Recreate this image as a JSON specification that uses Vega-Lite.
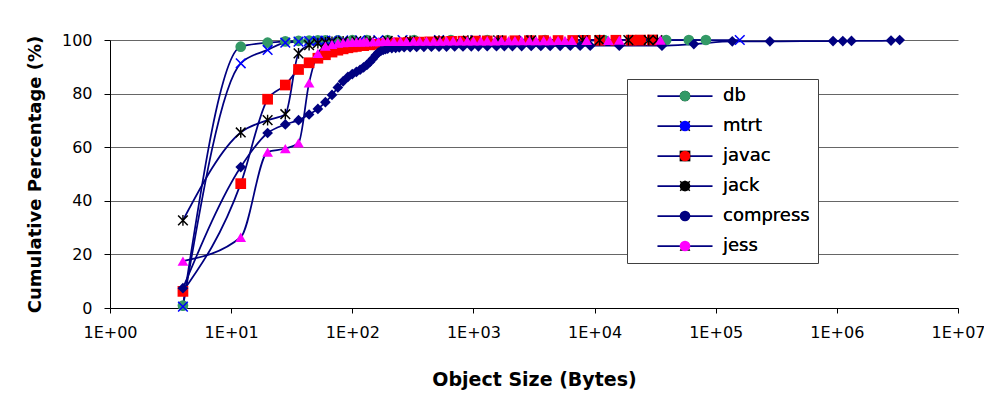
{
  "$schema": "https://vega.github.io/schema/vega-lite/v6.json",
  "width": 848,
  "height": 268,
  "autosize": {"type": "none"},
  "padding": {"left": 110, "top": 40, "right": 26, "bottom": 101},
  "background": "white",
  "config": {"view": {"stroke": null}, "font": "DejaVu Sans"},
  "data": {"values": [
    {"bench":"db","size":4,"pct":0.9},{"bench":"db","size":12,"pct":97.5},{"bench":"db","size":20,"pct":99.0},{"bench":"db","size":28,"pct":99.5},{"bench":"db","size":36,"pct":99.7},{"bench":"db","size":44,"pct":99.8},{"bench":"db","size":52,"pct":99.85},{"bench":"db","size":60,"pct":99.9},{"bench":"db","size":76,"pct":99.9},{"bench":"db","size":100,"pct":99.92},{"bench":"db","size":132,"pct":99.94},{"bench":"db","size":196,"pct":99.95},{"bench":"db","size":324,"pct":99.96},{"bench":"db","size":652,"pct":99.97},{"bench":"db","size":1300,"pct":99.98},{"bench":"db","size":3900,"pct":99.985},{"bench":"db","size":12000,"pct":99.99},{"bench":"db","size":39000,"pct":99.99},{"bench":"db","size":60000,"pct":99.995},{"bench":"db","size":83000,"pct":100},
    {"bench":"mtrt","size":4,"pct":0.5},{"bench":"mtrt","size":12,"pct":91.3},{"bench":"mtrt","size":20,"pct":96.3},{"bench":"mtrt","size":28,"pct":99.0},{"bench":"mtrt","size":36,"pct":99.4},{"bench":"mtrt","size":44,"pct":99.6},{"bench":"mtrt","size":52,"pct":99.7},{"bench":"mtrt","size":60,"pct":99.75},{"bench":"mtrt","size":68,"pct":99.8},{"bench":"mtrt","size":84,"pct":99.85},{"bench":"mtrt","size":116,"pct":99.9},{"bench":"mtrt","size":164,"pct":99.92},{"bench":"mtrt","size":260,"pct":99.94},{"bench":"mtrt","size":520,"pct":99.95},{"bench":"mtrt","size":1040,"pct":99.96},{"bench":"mtrt","size":2600,"pct":99.97},{"bench":"mtrt","size":8200,"pct":99.98},{"bench":"mtrt","size":30000,"pct":99.99},{"bench":"mtrt","size":158000,"pct":100},
    {"bench":"javac","size":4,"pct":6.2},{"bench":"javac","size":12,"pct":46.4},{"bench":"javac","size":20,"pct":77.9},{"bench":"javac","size":28,"pct":83.2},{"bench":"javac","size":36,"pct":89.0},{"bench":"javac","size":44,"pct":91.5},{"bench":"javac","size":52,"pct":93.2},{"bench":"javac","size":60,"pct":94.5},{"bench":"javac","size":68,"pct":95.5},{"bench":"javac","size":76,"pct":96.2},{"bench":"javac","size":84,"pct":96.7},{"bench":"javac","size":92,"pct":97.1},{"bench":"javac","size":100,"pct":97.4},{"bench":"javac","size":108,"pct":97.6},{"bench":"javac","size":124,"pct":97.9},{"bench":"javac","size":140,"pct":98.2},{"bench":"javac","size":156,"pct":98.4},{"bench":"javac","size":180,"pct":98.6},{"bench":"javac","size":212,"pct":98.8},{"bench":"javac","size":244,"pct":98.95},{"bench":"javac","size":292,"pct":99.1},{"bench":"javac","size":356,"pct":99.2},{"bench":"javac","size":436,"pct":99.3},{"bench":"javac","size":532,"pct":99.4},{"bench":"javac","size":660,"pct":99.5},{"bench":"javac","size":820,"pct":99.55},{"bench":"javac","size":1040,"pct":99.6},{"bench":"javac","size":1300,"pct":99.65},{"bench":"javac","size":1700,"pct":99.7},{"bench":"javac","size":2200,"pct":99.72},{"bench":"javac","size":2900,"pct":99.75},{"bench":"javac","size":3800,"pct":99.78},{"bench":"javac","size":5000,"pct":99.8},{"bench":"javac","size":6600,"pct":99.82},{"bench":"javac","size":8400,"pct":99.85},{"bench":"javac","size":11000,"pct":99.88},{"bench":"javac","size":15000,"pct":99.9},{"bench":"javac","size":20000,"pct":99.93},{"bench":"javac","size":24000,"pct":99.96},{"bench":"javac","size":30000,"pct":100},
    {"bench":"jack","size":4,"pct":32.7},{"bench":"jack","size":12,"pct":65.5},{"bench":"jack","size":20,"pct":70.1},{"bench":"jack","size":28,"pct":72.3},{"bench":"jack","size":36,"pct":95.0},{"bench":"jack","size":44,"pct":98.1},{"bench":"jack","size":52,"pct":98.8},{"bench":"jack","size":60,"pct":99.1},{"bench":"jack","size":68,"pct":99.3},{"bench":"jack","size":84,"pct":99.45},{"bench":"jack","size":108,"pct":99.55},{"bench":"jack","size":140,"pct":99.6},{"bench":"jack","size":196,"pct":99.65},{"bench":"jack","size":300,"pct":99.7},{"bench":"jack","size":520,"pct":99.75},{"bench":"jack","size":900,"pct":99.8},{"bench":"jack","size":1600,"pct":99.85},{"bench":"jack","size":3000,"pct":99.88},{"bench":"jack","size":8000,"pct":99.9},{"bench":"jack","size":11000,"pct":99.92},{"bench":"jack","size":19000,"pct":99.95},{"bench":"jack","size":28000,"pct":99.97},{"bench":"jack","size":33000,"pct":100},
    {"bench":"compress","size":4,"pct":7.4},{"bench":"compress","size":12,"pct":52.6},{"bench":"compress","size":20,"pct":65.3},{"bench":"compress","size":28,"pct":68.5},{"bench":"compress","size":36,"pct":70.1},{"bench":"compress","size":44,"pct":72.2},{"bench":"compress","size":52,"pct":74.3},{"bench":"compress","size":60,"pct":76.8},{"bench":"compress","size":68,"pct":79.5},{"bench":"compress","size":76,"pct":82.3},{"bench":"compress","size":84,"pct":84.6},{"bench":"compress","size":92,"pct":86.2},{"bench":"compress","size":100,"pct":87.3},{"bench":"compress","size":108,"pct":88.1},{"bench":"compress","size":116,"pct":88.9},{"bench":"compress","size":124,"pct":89.8},{"bench":"compress","size":132,"pct":90.7},{"bench":"compress","size":140,"pct":91.8},{"bench":"compress","size":148,"pct":93.0},{"bench":"compress","size":156,"pct":94.3},{"bench":"compress","size":164,"pct":95.3},{"bench":"compress","size":172,"pct":95.9},{"bench":"compress","size":180,"pct":96.3},{"bench":"compress","size":188,"pct":96.6},{"bench":"compress","size":196,"pct":96.8},{"bench":"compress","size":212,"pct":97.0},{"bench":"compress","size":228,"pct":97.1},{"bench":"compress","size":244,"pct":97.2},{"bench":"compress","size":268,"pct":97.3},{"bench":"compress","size":300,"pct":97.35},{"bench":"compress","size":340,"pct":97.4},{"bench":"compress","size":390,"pct":97.45},{"bench":"compress","size":450,"pct":97.5},{"bench":"compress","size":520,"pct":97.5},{"bench":"compress","size":600,"pct":97.55},{"bench":"compress","size":700,"pct":97.6},{"bench":"compress","size":820,"pct":97.6},{"bench":"compress","size":960,"pct":97.65},{"bench":"compress","size":1100,"pct":97.65},{"bench":"compress","size":1300,"pct":97.7},{"bench":"compress","size":1550,"pct":97.7},{"bench":"compress","size":1800,"pct":97.72},{"bench":"compress","size":2100,"pct":97.75},{"bench":"compress","size":2500,"pct":97.75},{"bench":"compress","size":3000,"pct":97.78},{"bench":"compress","size":3600,"pct":97.8},{"bench":"compress","size":4300,"pct":97.8},{"bench":"compress","size":5200,"pct":97.82},{"bench":"compress","size":6300,"pct":97.85},{"bench":"compress","size":7600,"pct":97.85},{"bench":"compress","size":9200,"pct":97.87},{"bench":"compress","size":16000,"pct":97.9},{"bench":"compress","size":36000,"pct":97.9},{"bench":"compress","size":66000,"pct":98.5},{"bench":"compress","size":137000,"pct":99.5},{"bench":"compress","size":280000,"pct":99.5},{"bench":"compress","size":930000,"pct":99.6},{"bench":"compress","size":1120000,"pct":99.6},{"bench":"compress","size":1320000,"pct":99.65},{"bench":"compress","size":2800000,"pct":99.8},{"bench":"compress","size":3300000,"pct":100},
    {"bench":"jess","size":4,"pct":17.5},{"bench":"jess","size":12,"pct":26.4},{"bench":"jess","size":20,"pct":58.2},{"bench":"jess","size":28,"pct":59.5},{"bench":"jess","size":36,"pct":61.6},{"bench":"jess","size":44,"pct":84.0},{"bench":"jess","size":52,"pct":95.0},{"bench":"jess","size":60,"pct":97.7},{"bench":"jess","size":68,"pct":98.4},{"bench":"jess","size":76,"pct":98.8},{"bench":"jess","size":84,"pct":99.0},{"bench":"jess","size":92,"pct":99.1},{"bench":"jess","size":100,"pct":99.2},{"bench":"jess","size":108,"pct":99.25},{"bench":"jess","size":116,"pct":99.3},{"bench":"jess","size":124,"pct":99.3},{"bench":"jess","size":132,"pct":99.35},{"bench":"jess","size":148,"pct":99.4},{"bench":"jess","size":164,"pct":99.4},{"bench":"jess","size":180,"pct":99.45},{"bench":"jess","size":196,"pct":99.45},{"bench":"jess","size":220,"pct":99.5},{"bench":"jess","size":250,"pct":99.5},{"bench":"jess","size":280,"pct":99.5},{"bench":"jess","size":320,"pct":99.55},{"bench":"jess","size":360,"pct":99.55},{"bench":"jess","size":410,"pct":99.6},{"bench":"jess","size":470,"pct":99.6},{"bench":"jess","size":530,"pct":99.6},{"bench":"jess","size":600,"pct":99.65},{"bench":"jess","size":680,"pct":99.65},{"bench":"jess","size":780,"pct":99.65},{"bench":"jess","size":890,"pct":99.7},{"bench":"jess","size":1000,"pct":99.7},{"bench":"jess","size":1150,"pct":99.7},{"bench":"jess","size":1300,"pct":99.72},{"bench":"jess","size":1500,"pct":99.72},{"bench":"jess","size":1700,"pct":99.74},{"bench":"jess","size":1950,"pct":99.75},{"bench":"jess","size":2200,"pct":99.76},{"bench":"jess","size":2500,"pct":99.77},{"bench":"jess","size":2900,"pct":99.78},{"bench":"jess","size":3300,"pct":99.8},{"bench":"jess","size":3800,"pct":99.8},{"bench":"jess","size":4300,"pct":99.82},{"bench":"jess","size":5000,"pct":99.83},{"bench":"jess","size":5700,"pct":99.84},{"bench":"jess","size":6500,"pct":99.85},{"bench":"jess","size":8600,"pct":99.87},{"bench":"jess","size":13000,"pct":99.9},{"bench":"jess","size":16000,"pct":99.93},{"bench":"jess","size":35000,"pct":100}
  ]},
  "encoding": {
    "x": {"field": "size", "type": "quantitative",
      "scale": {"type": "log", "domain": [1, 10000000], "nice": false},
      "axis": {"values": [1, 10, 100, 1000, 10000, 100000, 1000000, 10000000],
        "labelExpr": "'1E+0' + round(log(datum.value) / LN10)",
        "grid": false, "tickSize": 5, "tickColor": "black", "domainColor": "black",
        "labelFont": "DejaVu Sans", "labelFontSize": 16, "labelColor": "black", "labelPadding": 11,
        "labelFlush": false, "labelOverlap": false,
        "title": "Object Size (Bytes)", "titleFont": "DejaVu Sans", "titleFontSize": 19, "titleFontWeight": "bold", "titleColor": "black", "titlePadding": 30}},
    "y": {"field": "pct", "type": "quantitative",
      "scale": {"domain": [0, 100], "nice": false},
      "axis": {"values": [0, 20, 40, 60, 80, 100],
        "grid": true, "gridColor": "#666666", "gridWidth": 1,
        "tickSize": 6, "tickColor": "black", "domainColor": "black",
        "labelFont": "DejaVu Sans", "labelFontSize": 16, "labelColor": "black", "labelPadding": 12,
        "title": "Cumulative Percentage (%)", "titleFont": "DejaVu Sans", "titleFontSize": 18, "titleFontWeight": "bold", "titleColor": "black", "titlePadding": 17}}
  },
  "layer": [
    {"mark": {"type": "line", "interpolate": "monotone", "strokeWidth": 1.75},
     "encoding": {
       "stroke": {"field": "bench", "type": "nominal",
         "scale": {"domain": ["db", "mtrt", "javac", "jack", "compress", "jess"], "range": ["#000080", "#000080", "#000080", "#000080", "#000080", "#000080"]},
         "legend": {"orient": "none", "legendX": 517, "legendY": 39, "title": null,
           "symbolType": "M-5.25,0L5.25,0", "symbolSize": 110, "symbolStrokeWidth": 1.75,
           "labelOpacity": 0, "labelFont": "DejaVu Sans", "labelFontSize": 18, "labelOffset": 29,
           "symbolOffset": 41, "padding": 8, "rowPadding": 12,
           "fillColor": "white", "strokeColor": "#404040", "zindex": 1}}
     }},
    {"mark": {"type": "point", "filled": true, "size": 115, "opacity": 1},
     "encoding": {
       "fill": {"field": "bench", "type": "nominal", "sort": ["db", "mtrt", "javac", "jack", "compress", "jess"],
         "scale": {"range": ["#339966", "#0000FF", "#FF0000", "#000000", "#000080", "#FF00FF"]},
         "legend": {"orient": "none", "legendX": 517, "legendY": 39, "title": null,
           "symbolSize": 115, "symbolStrokeWidth": 0,
           "labelFont": "DejaVu Sans", "labelFontSize": 18, "labelColor": "black", "labelOffset": 29,
           "symbolOffset": 41, "padding": 8, "rowPadding": 12, "zindex": 2}},
       "shape": {"field": "bench", "type": "nominal", "sort": ["db", "mtrt", "javac", "jack", "compress", "jess"],
         "scale": {"range": ["circle",
           "M-1,-0.8L-0.8,-1L1,0.8L0.8,1ZM-0.8,1L-1,0.8L0.8,-1L1,-0.8Z",
           "square",
           "M-1,-0.8L-0.8,-1L1,0.8L0.8,1ZM-0.8,1L-1,0.8L0.8,-1L1,-0.8ZM-0.13,-1L0.13,-1L0.13,1L-0.13,1Z",
           "diamond", "triangle-up"]},
         "legend": {"orient": "none", "legendX": 517, "legendY": 39, "title": null,
           "symbolSize": 115, "symbolStrokeWidth": 0,
           "labelFont": "DejaVu Sans", "labelFontSize": 18, "labelColor": "black", "labelOffset": 29,
           "symbolOffset": 41, "padding": 8, "rowPadding": 12, "zindex": 2}}
     }}
  ]
}
